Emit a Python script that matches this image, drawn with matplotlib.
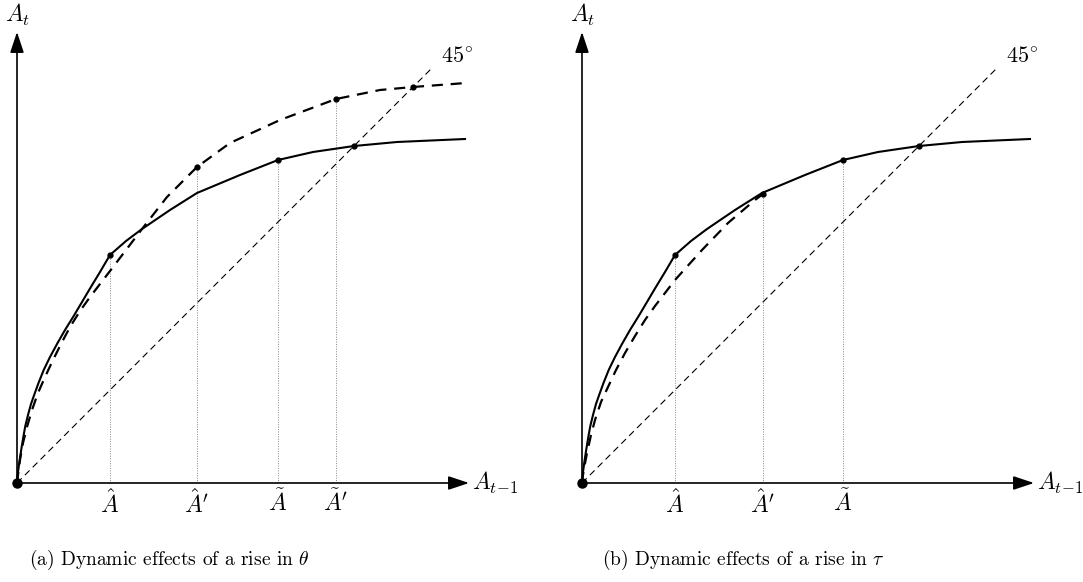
import numpy as np
import matplotlib
matplotlib.use("Agg")
import matplotlib.pyplot as plt

plt.rcParams['mathtext.fontset'] = 'cm'
plt.rcParams['font.family'] = ['cmr10', 'DejaVu Serif']
plt.rcParams['axes.formatter.use_mathtext'] = True

# values (arbitrary units, origin at 0, axis length ~450)
solid_x = [0, 1, 2.5, 4.5, 6.5, 8.3, 11, 14, 17.5, 21.5, 26.7, 33, 40, 48, 56.7,
           65, 73.3, 83, 93, 109, 125, 153, 180, 223, 261, 296, 337, 380, 448]
solid_y = [0, 11, 22, 35, 47, 57, 68, 79, 89, 100, 113, 126, 139, 153, 167,
           181, 195, 211, 228, 242, 254, 273, 290, 308, 323, 331, 337, 341, 344]

theta_x = [0, 1, 3, 6, 10, 15, 21, 28, 36, 44, 53, 63, 73, 83, 93, 109, 125,
           150, 180, 213, 263, 319, 363, 396, 449]
theta_y = [0, 8, 23, 40, 56, 73, 90, 106, 123, 139, 156, 172, 186, 199, 212,
           233, 254, 286, 316, 340, 363, 384, 393, 396, 400]

tau_x = [0, 1, 2.5, 5, 9, 13, 19, 26, 34, 43, 53, 63, 73, 83, 93, 120, 146, 173, 181]
tau_y = [0, 8, 17, 30, 48, 63, 81, 96, 113, 130, 147, 163, 177, 190, 203, 233,
         260, 283, 289]

diag_end = 416
x_len, y_len = 452, 451

# marked points: (x, y, tick label)
marks_a = [(93, 228, r'$\hat{A}$'), (180, 316, r"$\hat{A}'$"),
           (261, 323, r'$\tilde{A}$'), (319, 384, r"$\tilde{A}'$")]
fixed_a = [(337, 337), (396, 396)]
marks_b = [(93, 228, r'$\hat{A}$'), (181, 289, r"$\hat{A}'$"),
           (261, 323, r'$\tilde{A}$')]
fixed_b = [(337, 337)]

W, H = 1083, 582
fig = plt.figure(figsize=(W / 100, H / 100), dpi=100)
MATH_FS = 16


def panel(left_px, dashed_x, dashed_y, marks, fixed):
    ax = fig.add_axes([left_px / W, 99 / H, x_len / W, y_len / H])
    ax.set_xlim(0, x_len)
    ax.set_ylim(0, y_len)
    ax.axis('off')

    arrow = dict(arrowstyle='-|>,head_length=0.9,head_width=0.3', lw=1.2,
                 color='black', shrinkA=0, shrinkB=0, mutation_scale=14)
    ax.annotate('', xy=(x_len, 0), xytext=(0, 0), arrowprops=arrow,
                annotation_clip=False)
    ax.annotate('', xy=(0, y_len), xytext=(0, 0), arrowprops=arrow,
                annotation_clip=False)
    ax.text(1, y_len + 17, r'$A_t$', ha='center', va='center', fontsize=MATH_FS + 1)
    ax.text(x_len + 3, 0, r'$A_{t\!-\!1}$', ha='left', va='center',
            fontsize=MATH_FS + 1)

    ax.plot([0, diag_end], [0, diag_end], color='black', lw=0.8,
            dashes=(6, 4), clip_on=False)
    ax.text(diag_end + 8, diag_end + 11, r'$45^{\circ}$', ha='left',
            va='center', fontsize=MATH_FS)

    for x, y, lab in marks:
        ax.plot([x, x], [0, y], color='#888888', lw=0.7, ls=(0, (1, 1.5)))
        ax.text(x, -6, lab, ha='center', va='top', fontsize=MATH_FS + 1)

    ax.plot(solid_x, solid_y, color='black', lw=1.5, solid_joinstyle='round',
            clip_on=False)
    ax.plot(dashed_x, dashed_y, color='black', lw=1.6, dashes=(5, 3.5),
            clip_on=False)

    ax.plot([m[0] for m in marks] + [f[0] for f in fixed],
            [m[1] for m in marks] + [f[1] for f in fixed],
            'o', color='black', ms=3.5, clip_on=False, zorder=5)
    ax.plot([0], [0], 'o', color='black', ms=6.5, clip_on=False, zorder=5)
    return ax


panel(17, theta_x, theta_y, marks_a, fixed_a)
panel(582, tau_x, tau_y, marks_b, fixed_b)

fig.text(169 / W, 1 - 560 / H, r'(a) Dynamic effects of a rise in $\theta$',
         ha='center', va='center', fontsize=14)
fig.text(743 / W, 1 - 560 / H, r'(b) Dynamic effects of a rise in $\tau$',
         ha='center', va='center', fontsize=14)

fig.savefig('out.png', dpi=100)
